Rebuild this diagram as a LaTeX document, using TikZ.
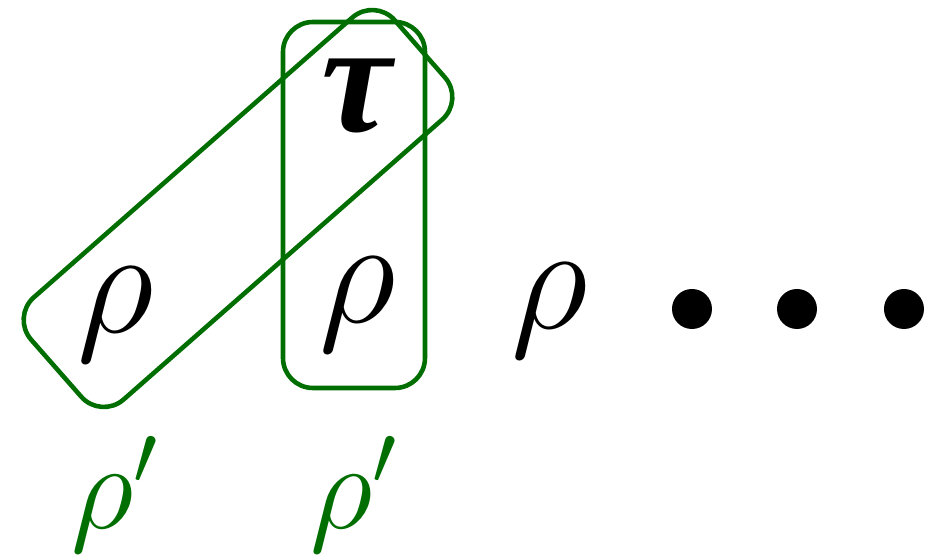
\RequirePackage{fix-cm}
\documentclass[tikz,border=0pt]{standalone}
\usepackage{amsmath}
\usepackage{fontspec}
\newfontfamily\serifgreek{Liberation Serif}
\definecolor{pairgreen}{RGB}{0,110,0}
\tikzset{
  sym/.style={font=\fontsize{43}{48}\selectfont, inner sep=0pt, anchor=base},
  lab/.style={font=\fontsize{35}{40}\selectfont, text=pairgreen, inner sep=0pt, anchor=base},
  pair/.style={draw=pairgreen, line width=1.3pt, rounded corners=0.3cm, inner sep=0pt},
  dot/.style={circle, fill=black, minimum size=0.4cm, inner sep=0pt}
}

\begin{document}
\begin{tikzpicture}
  \useasboundingbox (0,0) rectangle (9.34,5.57);
  % the two groupings
  \node[pair, minimum width=4.84cm, minimum height=1.36cm, rotate=41.3] (diag) at (2.38,3.485) {};
  \node[pair, minimum width=1.42cm, minimum height=3.66cm] (vert) at (3.54,3.52) {};
  % the sequence
  \node[sym] (rhoA) at (1.155,2.24) {$\rho$};
  \node[sym] (rhoB) at (3.575,2.34) {$\rho$};
  \node[sym] (rhoC) at (5.495,2.28) {$\rho$};
  \node[sym, font=\fontsize{45}{50}\serifgreek\bfseries\itshape] (tau) at (3.57,4.25) {τ};
  \foreach \x [count=\i] in {6.92,7.97,9.04}
    \node[dot] (dot\i) at (\x,2.48) {};
  % labels below
  \node[lab] (primeA) at (1.15,0.28) {$\rho'$};
  \node[lab] (primeB) at (3.54,0.28) {$\rho'$};
\end{tikzpicture}
\end{document}
